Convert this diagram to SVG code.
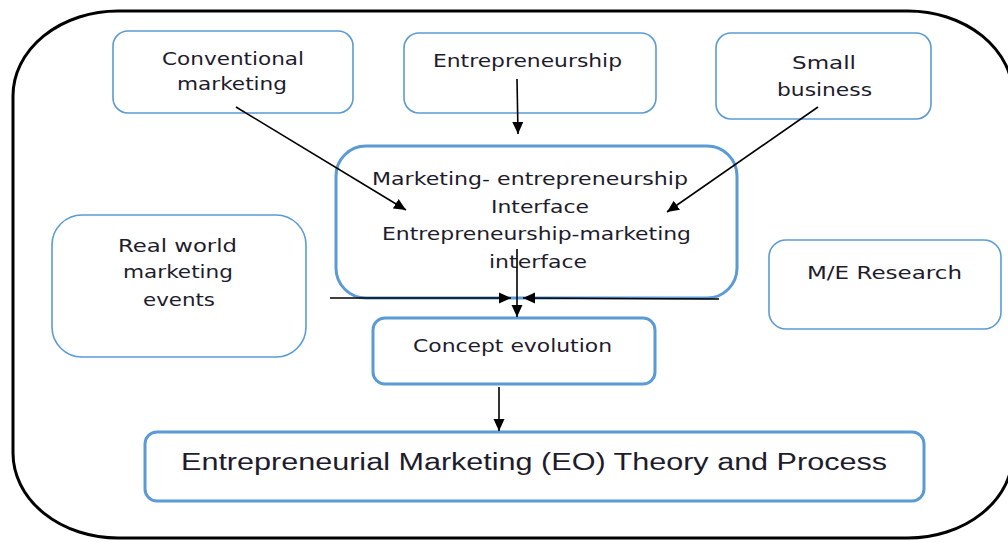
<svg xmlns="http://www.w3.org/2000/svg" width="1008" height="542" viewBox="0 0 1008 542">
<style>
.n{fill:#fff;stroke:#5B9BD5;stroke-width:1.6}
.nb{fill:#fff;stroke:#5B9BD5;stroke-width:3}
.t{font-family:"DejaVu Sans",Verdana,sans-serif;font-size:17.5px;fill:#1e1b2c;text-anchor:start}
.tb{font-family:"Liberation Sans",Arial,sans-serif;font-size:23px;fill:#1e1b2c}
.c{stroke:#000;stroke-width:1.6;fill:none}
</style>
<defs>
<marker id="ah" viewBox="0 0 12 12" refX="12" refY="6" markerWidth="12" markerHeight="12" markerUnits="userSpaceOnUse" orient="auto">
<path d="M0,0.5 L12,6 L0,11.5 Z" fill="#000"/>
</marker>
</defs>
<rect x="13" y="11" width="1000" height="527" rx="105" ry="85" fill="#fff" stroke="#000" stroke-width="3"/>
<g id="conventional">
<rect class="n" x="113" y="31" width="240" height="82" rx="15"/>
<text class="t" x="162" y="65" textLength="142" lengthAdjust="spacingAndGlyphs">Conventional</text>
<text class="t" x="177" y="90" textLength="110" lengthAdjust="spacingAndGlyphs">marketing</text>
</g>
<g id="entrepreneurship">
<rect class="n" x="404" y="33" width="252" height="80" rx="15"/>
<text class="t" x="433" y="67" textLength="189" lengthAdjust="spacingAndGlyphs">Entrepreneurship</text>
</g>
<g id="smallbusiness">
<rect class="n" x="716" y="33" width="215" height="86" rx="15"/>
<text class="t" x="792" y="69" textLength="64" lengthAdjust="spacingAndGlyphs">Small</text>
<text class="t" x="777" y="96" textLength="95" lengthAdjust="spacingAndGlyphs">business</text>
</g>
<g id="interface">
<rect class="nb" x="336" y="146" width="401" height="152" rx="30"/>
<text class="t" x="372" y="185" textLength="316" lengthAdjust="spacingAndGlyphs">Marketing- entrepreneurship</text>
<text class="t" x="491" y="213" textLength="98" lengthAdjust="spacingAndGlyphs">Interface</text>
<text class="t" x="382" y="240" textLength="309" lengthAdjust="spacingAndGlyphs">Entrepreneurship-marketing</text>
<text class="t" x="489" y="268" textLength="98" lengthAdjust="spacingAndGlyphs">interface</text>
</g>
<g id="realworld">
<rect class="n" x="52" y="215" width="254" height="142" rx="30"/>
<text class="t" x="118" y="252" textLength="119" lengthAdjust="spacingAndGlyphs">Real world</text>
<text class="t" x="123" y="278" textLength="110" lengthAdjust="spacingAndGlyphs">marketing</text>
<text class="t" x="143" y="306" textLength="72" lengthAdjust="spacingAndGlyphs">events</text>
</g>
<g id="research">
<rect class="n" x="769" y="240" width="232" height="89" rx="17"/>
<text class="t" x="807" y="279" textLength="155" lengthAdjust="spacingAndGlyphs">M/E Research</text>
</g>
<g id="concept">
<rect class="nb" x="373" y="318" width="282" height="66" rx="12"/>
<text class="t" x="413" y="352" textLength="199" lengthAdjust="spacingAndGlyphs">Concept evolution</text>
</g>
<g id="theory">
<rect class="nb" x="145" y="432" width="779" height="69" rx="12"/>
<text class="tb" x="181" y="470" textLength="706" lengthAdjust="spacingAndGlyphs">Entrepreneurial Marketing (EO) Theory and Process</text>
</g>
<g id="connectors">
<line class="c" x1="236" y1="107" x2="406" y2="210" marker-end="url(#ah)"/>
<line class="c" x1="517" y1="79" x2="518" y2="134" marker-end="url(#ah)"/>
<line class="c" x1="818" y1="107" x2="667" y2="212" marker-end="url(#ah)"/>
<line class="c" x1="517" y1="249" x2="517" y2="317" marker-end="url(#ah)"/>
<line class="c" x1="330" y1="298" x2="511" y2="298" marker-end="url(#ah)"/>
<line class="c" x1="719" y1="299" x2="523" y2="298" marker-end="url(#ah)"/>
<line class="c" x1="499" y1="387" x2="499" y2="431" marker-end="url(#ah)"/>
</g>
</svg>
